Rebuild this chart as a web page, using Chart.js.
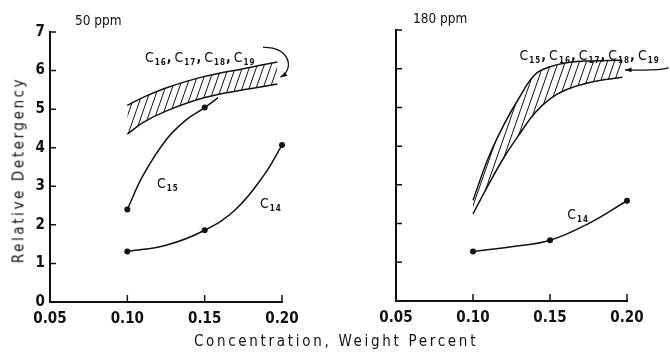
<!DOCTYPE html>
<html>
<head>
<meta charset="utf-8">
<script src="https://cdn.jsdelivr.net/npm/chart.js@4.4.0/dist/chart.umd.min.js"></script>
<style>
  html,body{margin:0;padding:0;background:#fff;}
  #wrap{position:relative;width:670px;height:352px;overflow:hidden;font-family:"Liberation Sans Narrow","DejaVu Sans Condensed",sans-serif;color:#111;}
  canvas{position:absolute;top:0;}
  .t{position:absolute;white-space:nowrap;line-height:1;}
</style>
</head>
<body>
<div id="wrap">
  <canvas id="left" width="335" height="352" style="left:0"></canvas>
  <canvas id="right" width="335" height="352" style="left:335px"></canvas>
  <div class="t" style="left:75px;top:14px;font-size:13.5px;">50 ppm</div>
  <div class="t" style="left:413px;top:12px;font-size:13.5px;">180 ppm</div>
  <div class="t" id="ytitle" style="left:19px;top:170px;font-size:15px;letter-spacing:2.6px;transform:translate(-50%,-50%) rotate(-90deg);">Relative Detergency</div>
  <div class="t" id="xtitle" style="left:336px;top:341px;font-size:15px;letter-spacing:2.7px;transform:translate(-50%,-50%);">Concentration, Weight Percent</div>
</div>
<script>
// x ticks and y range
const xTicks=[0.05,0.10,0.15,0.20];
const yTicks=[0,1,2,3,4,5,6,7];

// 50 ppm panel
const c15x50=[0.10,0.11,0.125,0.138,0.15,0.1586];
const c15y50=[2.40,3.27,4.20,4.72,5.04,5.30];
const c15dots50=[3,0,0,0,3,0];
const c14x50=[0.10,0.125,0.15,0.17,0.188,0.20];
const c14y50=[1.31,1.47,1.86,2.40,3.27,4.07];
const c14dots50=[3,0,3,0,0,3];
const bandX50=[0.10,0.11,0.125,0.15,0.175,0.197];
const bandHi50=[5.10,5.30,5.55,5.85,6.05,6.22];
const bandLo50=[4.35,4.65,4.95,5.30,5.50,5.65];

// 180 ppm panel
const c14x180=[0.10,0.125,0.15,0.175,0.20];
const c14y180=[1.28,1.40,1.57,2.00,2.59];
const c14dots180=[3,0,3,0,3];
const bandX180=[0.10,0.11,0.12,0.13,0.14,0.15,0.16,0.175,0.197];
const bandHi180=[2.60,3.70,4.55,5.25,5.84,6.05,6.15,6.20,6.22];
const bandLo180=[2.25,3.00,3.70,4.30,4.85,5.22,5.45,5.64,5.78];

const INK='#111';
const FONT='"Liberation Sans Narrow","DejaVu Sans Condensed",sans-serif';

function hatch(){
  const c=document.createElement('canvas'); c.width=7; c.height=20;
  const g=c.getContext('2d'); g.strokeStyle=INK; g.lineWidth=1;
  g.beginPath();
  for(const dx of [-7,0,7]){ g.moveTo(dx,20); g.lineTo(dx+7,0); }
  g.stroke();
  return g.createPattern(c,'repeat');
}

const pts=(xs,ys)=>xs.map((x,i)=>({x,y:ys[i]}));

function line(xs,ys,extra){
  return Object.assign({data:pts(xs,ys),borderColor:INK,borderWidth:1.5,pointRadius:0,clip:6,
    pointBackgroundColor:INK,pointBorderWidth:0,fill:false,tension:0.4},extra||{});
}

// inward tick marks
const inTicks={
  id:'inTicks',
  afterDraw(chart){
    const {ctx,chartArea:a,scales:{x,y}}=chart;
    ctx.save(); ctx.strokeStyle=INK; ctx.lineWidth=1.5; ctx.beginPath();
    y.ticks.forEach(t=>{ const p=y.getPixelForValue(t.value); ctx.moveTo(a.left,p); ctx.lineTo(a.left+6,p); });
    x.ticks.forEach(t=>{ const p=x.getPixelForValue(t.value); if(p>a.left+2){ ctx.moveTo(p,a.bottom); ctx.lineTo(p,a.bottom-7); } });
    ctx.stroke(); ctx.restore();
  }
};

// C labels with subscripts and arrows
const notes={
  id:'notes',
  afterDraw(chart,args,opts){
    const {ctx,scales:{x,y}}=chart;
    ctx.save(); ctx.fillStyle=INK; ctx.strokeStyle=INK; ctx.textBaseline='alphabetic';
    (opts.labels||[]).forEach(l=>{
      let cx=x.getPixelForValue(l.x); const by=y.getPixelForValue(l.y);
      l.subs.forEach((s,i)=>{
        ctx.font='14px '+FONT; ctx.fillText('C',cx,by); cx+=ctx.measureText('C').width+1;
        ctx.font='bold 8px '+FONT; ctx.letterSpacing='1px';
        ctx.fillText(s,cx,by+3); cx+=ctx.measureText(s).width;
        ctx.letterSpacing='0px';
        if(i<l.subs.length-1){ ctx.font='bold 14px '+FONT; ctx.fillText(',',cx,by); cx+=ctx.measureText(',').width+3; }
      });
    });
    (opts.arrows||[]).forEach(a=>{
      const P=a.map(p=>[x.getPixelForValue(p[0]),y.getPixelForValue(p[1])]);
      ctx.lineWidth=1.3; ctx.beginPath(); ctx.moveTo(P[0][0],P[0][1]);
      ctx.bezierCurveTo(P[1][0],P[1][1],P[2][0],P[2][1],P[3][0],P[3][1]); ctx.stroke();
      const ang=Math.atan2(P[3][1]-P[2][1],P[3][0]-P[2][0]);
      ctx.beginPath(); ctx.moveTo(P[3][0],P[3][1]);
      ctx.lineTo(P[3][0]-7*Math.cos(ang-0.35),P[3][1]-7*Math.sin(ang-0.35));
      ctx.lineTo(P[3][0]-7*Math.cos(ang+0.35),P[3][1]-7*Math.sin(ang+0.35));
      ctx.closePath(); ctx.fill();
    });
    ctx.restore();
  }
};

function makeChart(id,datasets,cfg){
  return new Chart(document.getElementById(id),{
    type:'line',
    data:{datasets},
    options:{
      responsive:false,animation:false,devicePixelRatio:1,
      layout:{padding:{top:cfg.top,right:cfg.right,left:0,bottom:0}},
      plugins:{legend:{display:false},tooltip:{enabled:false},notes:cfg.notes},
      scales:{
        x:{type:'linear',min:xTicks[0],max:xTicks[xTicks.length-1],
          afterBuildTicks:s=>{ s.ticks=xTicks.map(v=>({value:v})); },
          afterFit:s=>{ s.height=cfg.xh; },
          grid:{display:true,drawOnChartArea:false,drawTicks:false},
          border:{display:true,color:INK,width:2},
          ticks:{color:INK,padding:8,font:{family:FONT,size:15,weight:'bold'},callback:v=>v.toFixed(2)}},
        y:{min:yTicks[0],max:yTicks[yTicks.length-1],
          afterBuildTicks:s=>{ s.ticks=yTicks.map(v=>({value:v})); },
          afterFit:s=>{ s.width=cfg.yw; },
          grid:{display:true,drawOnChartArea:false,drawTicks:false},
          border:{display:true,color:INK,width:2},
          ticks:{display:cfg.yLabels,color:INK,padding:5,font:{family:FONT,size:15,weight:'bold'}}}
      }
    },
    plugins:[inTicks,notes]
  });
}

const pat=hatch();

makeChart('left',[
  line(bandX50,bandHi50),
  line(bandX50,bandLo50,{fill:'-1',backgroundColor:pat}),
  line(c15x50,c15y50,{pointRadius:c15dots50}),
  line(c14x50,c14y50,{pointRadius:c14dots50})
],{top:32,right:53,xh:50,yw:50,yLabels:true,notes:{
  labels:[{x:0.1114,y:6.22,subs:['16','17','18','19']},{x:0.1192,y:2.96,subs:['15']},{x:0.1858,y:2.44,subs:['14']}],
  arrows:[[[0.1877,6.60],[0.204,6.65],[0.209,6.05],[0.199,5.83]]]
}});

makeChart('right',[
  line(bandX180,bandHi180),
  line(bandX180,bandLo180,{fill:'-1',backgroundColor:pat}),
  line(c14x180,c14y180,{pointRadius:c14dots180})
],{top:30,right:43,xh:51,yw:61,yLabels:false,notes:{
  labels:[{x:0.1302,y:6.23,subs:['15','16','17','18','19']},{x:0.1612,y:2.12,subs:['14']}],
  arrows:[[[0.2271,6.02],[0.218,5.93],[0.208,5.97],[0.1987,5.97]]]
}});
</script>
</body>
</html>
